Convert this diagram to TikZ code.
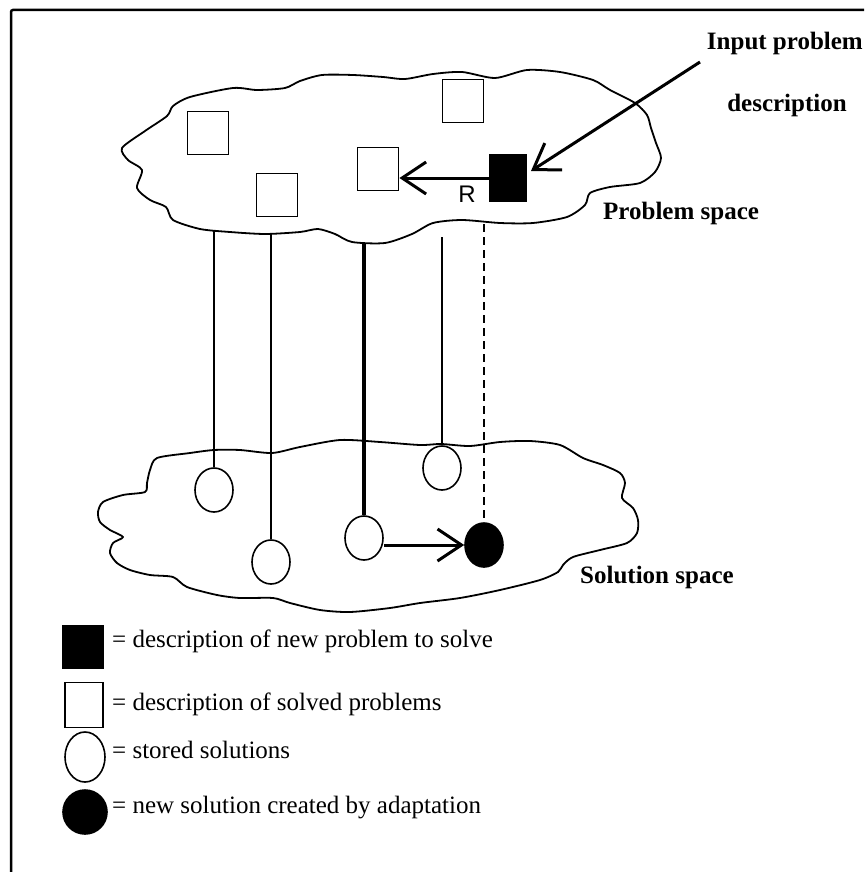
\documentclass[tikz,border=0pt]{standalone}
\usepackage{fontspec}
\setmainfont{Liberation Serif}
\newfontfamily\labelsans{Liberation Sans}
\usetikzlibrary{arrows.meta,shapes.geometric}
\begin{document}
\begin{tikzpicture}[x=1pt,y=1pt,
  outline/.style={line width=1.8pt, line join=round},
  probbox/.style={draw, line width=1.8pt, minimum width=41pt, minimum height=43pt, inner sep=0pt},
  newbox/.style={probbox, fill=black},
  soln/.style={ellipse, draw, line width=1.6pt, minimum width=38pt, minimum height=44pt, inner sep=0pt},
  newsoln/.style={soln, fill=black},
  link/.style={line width=1.3pt},
  biglink/.style={line width=4pt},
  guess/.style={line width=1.3pt, dash pattern=on 8pt off 5pt},
  barb/.style={line width=3pt, -{Straight Barb[length=24pt,width=32pt]}},
  boldlabel/.style={font=\fontsize{25}{29}\selectfont\bfseries, inner sep=0pt},
  legtext/.style={font=\fontsize{25}{30}\selectfont, inner sep=0pt, anchor=base west},
]
\useasboundingbox (0,0) rectangle (864,-872);

\begin{scope}[yscale=-1]
% page frame
\draw[line width=2.5pt, rounded corners=2pt] (11,872) -- (11,10) -- (864,10);

% problem space cloud
\draw[outline] plot[smooth cycle, tension=0.45] coordinates {
  (122,148) (128,160) (142,170) (137,188) (150,200) (166,207) (173,220)
  (200,229) (230,232) (265,234) (300,232) (318,229) (335,234) (352,242)
  (385,243) (412,234) (433,223) (462,220) (500,223) (533,223) (567,217)
  (585,205) (590,193) (610,187) (640,183) (655,172) (661,158) (656,143)
  (651,128) (647,115) (635,103) (610,90) (593,80) (560,72) (527,70)
  (495,78) (462,72) (433,74) (405,79) (383,77) (353,75) (322,75) (300,81)
  (285,88) (257,90) (233,88) (190,97) (173,106) (167,116) (145,131)};

% solution space cloud
\draw[outline] plot[smooth cycle, tension=0.45] coordinates {
  (150,470) (157,458) (190,453) (214,450) (240,450) (272,453) (300,447)
  (340,440) (380,442) (420,445) (441,444) (470,446) (500,442) (530,441)
  (560,445) (583,458) (603,465) (620,473) (625,483) (622,498) (633,508)
  (638,520) (637,533) (627,543) (600,550) (573,557) (563,565) (558,572)
  (540,580) (500,590) (460,598) (420,603) (390,608) (350,612) (320,610)
  (290,603) (273,598) (240,598) (217,595) (187,587) (173,577) (150,575)
  (130,570) (117,563) (110,553) (113,543) (123,537) (110,530) (100,522)
  (98,512) (103,502) (123,495) (145,492) (147,483)};
\end{scope}

% stored problem descriptions
\node[probbox] (p1) at (208,-133) {};
\node[probbox] (p2) at (277,-195) {};
\node[probbox] (p3) at (378,-169) {};
\node[probbox] (p4) at (463,-101) {};
\node[newbox, minimum width=37pt, minimum height=46pt] (pnew) at (508,-178) {};

% input arrow and retrieval arrow
\coordinate (inputstart) at (700,-62);
\coordinate (inputtip) at (531,-171);
\draw[barb] (inputstart) -- (inputtip);
\draw[barb] (pnew.west) -- (p3.east |- pnew.west);
\node[font=\labelsans\fontsize{24}{28}\selectfont, inner sep=0pt] (rlab) at (467,-194) {R};

% solutions
\node[soln] (s1) at (214,-490) {};
\node[soln] (s2) at (271,-562) {};
\node[soln] (s3) at (364,-538) {};
\node[soln] (s4) at (442,-468) {};
\node[newsoln] (snew) at (484,-545) {};

% links from problem space to solution space
\coordinate (b1) at (214,-231);
\coordinate (b2) at (271,-234);
\coordinate (b3) at (364,-243);
\coordinate (b4) at (442,-237);
\coordinate (b5) at (484,-224);
\draw[link] (b1) -- (s1.north);
\draw[link] (b2) -- (s2.north);
\draw[biglink] (b3) -- (s3.north);
\draw[link] (b4) -- (s4.north);
\draw[guess] (b5) -- (snew.north);

% adaptation arrow
\draw[barb] (s3.east |- snew.west) -- (snew.west);

% labels
\node[boldlabel, anchor=base east] (inlab) at (863,-50) {Input problem};
\node[boldlabel, anchor=base] (inlab2) at (787,-112) {description};
\node[boldlabel, anchor=base west] (plab) at (603,-219) {Problem space};
\node[boldlabel, anchor=base west] (slab) at (580,-583) {Solution space};

% legend
\node[newbox, minimum width=40pt, minimum height=43pt] (k1) at (83,-647) {};
\node[probbox, minimum width=38pt, minimum height=45pt] (k2) at (84,-705) {};
\node[soln, minimum width=40pt, minimum height=50pt] (k3) at (85,-757) {};
\node[newsoln, minimum width=44pt, minimum height=44pt] (k4) at (85,-812) {};
\node[legtext] (t1) at (112,-647) {= description of new problem to solve};
\node[legtext] (t2) at (112,-710) {= description of solved problems};
\node[legtext] (t3) at (112,-758) {= stored solutions};
\node[legtext] (t4) at (112,-813) {= new solution created by adaptation};
\end{tikzpicture}
\end{document}
